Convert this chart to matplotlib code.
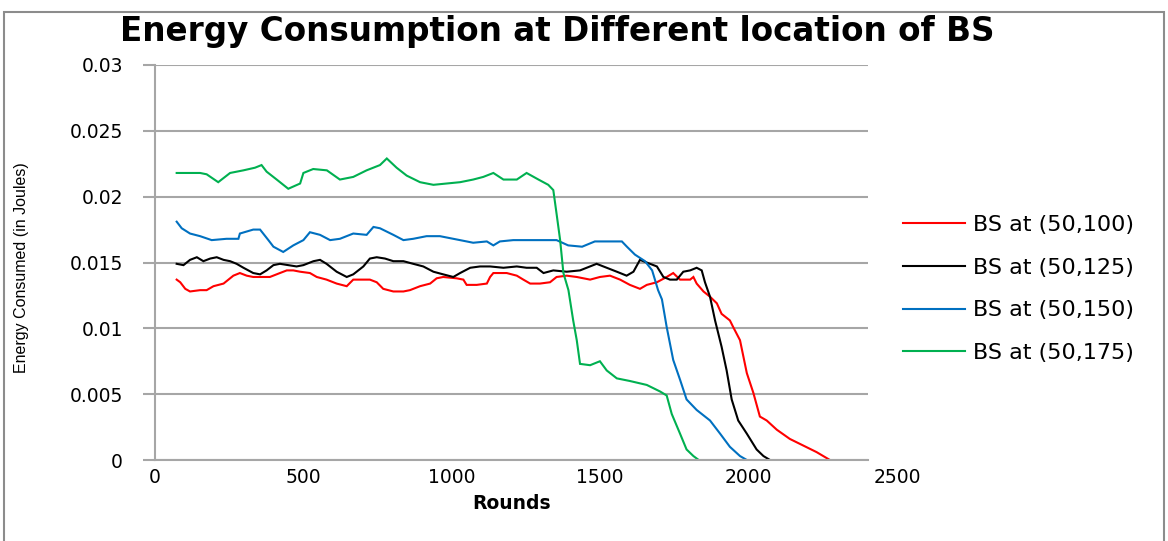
import matplotlib
matplotlib.use("Agg")
import matplotlib.pyplot as plt
from matplotlib.patches import Rectangle
from matplotlib.transforms import offset_copy

# ---- data ----
red_x = [73, 85, 102, 118, 152, 174, 197, 231, 264, 286, 309, 331, 365, 387, 421, 444, 466, 489, 522, 545,
         578, 612, 646, 668, 691, 724, 747, 769, 803, 837, 859, 893, 927, 949, 971, 1016, 1039, 1050, 1084,
         1118, 1129, 1140, 1185, 1219, 1241, 1264, 1297, 1331, 1353, 1387, 1421, 1466, 1499, 1533, 1567,
         1600, 1634, 1657, 1691, 1724, 1746, 1769, 1803, 1814, 1825, 1848, 1870, 1893, 1909, 1937, 1948,
         1971, 1994, 2016, 2038, 2061, 2095, 2139, 2184, 2229, 2274]
red_y = [0.0137, 0.0135, 0.0130, 0.0128, 0.0129, 0.0129, 0.0132, 0.0134, 0.0140, 0.0142, 0.0140, 0.0139,
         0.0139, 0.0139, 0.0142, 0.0144, 0.0144, 0.0143, 0.0142, 0.0139, 0.0137, 0.0134, 0.0132, 0.0137,
         0.0137, 0.0137, 0.0135, 0.0130, 0.0128, 0.0128, 0.0129, 0.0132, 0.0134, 0.0138, 0.0139, 0.0138,
         0.0137, 0.0133, 0.0133, 0.0134, 0.0139, 0.0142, 0.0142, 0.0140, 0.0137, 0.0134, 0.0134, 0.0135,
         0.0139, 0.0140, 0.0139, 0.0137, 0.0139, 0.0140, 0.0137, 0.0133, 0.0130, 0.0133, 0.0135, 0.0139,
         0.0142, 0.0137, 0.0137, 0.0139, 0.0134, 0.0128, 0.0124, 0.0119, 0.0111, 0.0106, 0.0101, 0.0091,
         0.0066, 0.0051, 0.0033, 0.0030, 0.0023, 0.0016, 0.0011, 0.0006, 0.0]

black_x = [73, 96, 118, 141, 163, 186, 208, 231, 253, 275, 298, 331, 354, 376, 399, 421, 449, 477, 500, 534,
           556, 578, 612, 646, 668, 702, 724, 747, 775, 803, 837, 870, 904, 938, 971, 1005, 1028, 1062, 1095,
           1129, 1174, 1219, 1252, 1286, 1309, 1342, 1387, 1432, 1488, 1522, 1556, 1589, 1612, 1634, 1668,
           1691, 1713, 1735, 1758, 1780, 1803, 1825, 1842, 1853, 1870, 1887, 1909, 1926, 1943, 1965, 1994,
           2027, 2050, 2072]
black_y = [0.0149, 0.0148, 0.0152, 0.0154, 0.0151, 0.0153, 0.0154, 0.0152, 0.0151, 0.0149, 0.0146, 0.0142,
           0.0141, 0.0144, 0.0148, 0.0149, 0.0148, 0.0147, 0.0148, 0.0151, 0.0152, 0.0149, 0.0143, 0.0139,
           0.0141, 0.0147, 0.0153, 0.0154, 0.0153, 0.0151, 0.0151, 0.0149, 0.0147, 0.0143, 0.0141, 0.0139,
           0.0142, 0.0146, 0.0147, 0.0147, 0.0146, 0.0147, 0.0146, 0.0146, 0.0142, 0.0144, 0.0143, 0.0144,
           0.0149, 0.0146, 0.0143, 0.0140, 0.0143, 0.0152, 0.0149, 0.0147, 0.0139, 0.0137, 0.0137, 0.0143,
           0.0144, 0.0146, 0.0144, 0.0135, 0.0124, 0.0106, 0.0086, 0.0068, 0.0046, 0.0030, 0.0020, 0.0008,
           0.0003, 0.0]

blue_x = [73, 90, 118, 152, 191, 241, 281, 286, 331, 354, 382, 399, 432, 466, 500, 522, 556, 590, 623, 668,
          713, 736, 758, 803, 837, 870, 915, 960, 1005, 1050, 1072, 1118, 1140, 1162, 1207, 1252, 1297, 1353,
          1392, 1439, 1482, 1573, 1590, 1617, 1651, 1675, 1695, 1708, 1724, 1746, 1769, 1791, 1825, 1870,
          1904, 1937, 1971, 1994]
blue_y = [0.0181, 0.0176, 0.0172, 0.0170, 0.0167, 0.0168, 0.0168, 0.0172, 0.0175, 0.0175, 0.0167, 0.0162,
          0.0158, 0.0163, 0.0167, 0.0173, 0.0171, 0.0167, 0.0168, 0.0172, 0.0171, 0.0177, 0.0176, 0.0171,
          0.0167, 0.0168, 0.0170, 0.0170, 0.0168, 0.0166, 0.0165, 0.0166, 0.0163, 0.0166, 0.0167, 0.0167,
          0.0167, 0.0167, 0.0163, 0.0162, 0.0166, 0.0166, 0.0162, 0.0156, 0.0151, 0.0144, 0.0129, 0.0122,
          0.0101, 0.0076, 0.0061, 0.0046, 0.0038, 0.0030, 0.0020, 0.0010, 0.0003, 0.0]

green_x = [73, 152, 174, 213, 253, 298, 337, 359, 376, 410, 449, 489, 500, 533, 579, 623, 668, 713, 758, 781,
           814, 848, 893, 938, 983, 1028, 1072, 1106, 1140, 1174, 1219, 1252, 1292, 1325, 1342, 1353, 1365,
           1376, 1393, 1409, 1421, 1432, 1466, 1499, 1522, 1556, 1600, 1657, 1702, 1724, 1741, 1769, 1791,
           1814, 1832]
green_y = [0.0218, 0.0218, 0.0217, 0.0211, 0.0218, 0.0220, 0.0222, 0.0224, 0.0219, 0.0213, 0.0206, 0.0210,
           0.0218, 0.0221, 0.0220, 0.0213, 0.0215, 0.0220, 0.0224, 0.0229, 0.0222, 0.0216, 0.0211, 0.0209,
           0.0210, 0.0211, 0.0213, 0.0215, 0.0218, 0.0213, 0.0213, 0.0218, 0.0213, 0.0209, 0.0205, 0.0187,
           0.0167, 0.0142, 0.0129, 0.0106, 0.0091, 0.0073, 0.0072, 0.0075, 0.0068, 0.0062, 0.0060, 0.0057,
           0.0052, 0.0049, 0.0035, 0.0020, 0.0008, 0.0003, 0.0]

labels = ["BS at (50,100)", "BS at (50,125)", "BS at (50,150)", "BS at (50,175)"]
colors = ["#FF0000", "#000000", "#0070C0", "#00B050"]
y_ticks = [0, 0.005, 0.01, 0.015, 0.02, 0.025, 0.03]
y_tick_labels = ["0", "0.005", "0.01", "0.015", "0.02", "0.025", "0.03"]
x_ticks = [0, 500, 1000, 1500, 2000, 2500]

W, H = 1168, 541
plt.rcParams['font.family'] = ['DejaVu Sans']
fig = plt.figure(figsize=(W / 100, H / 100), dpi=100)

# outer frame
fig.patches.append(Rectangle((4 / W, -0.05), 1160 / W, 1.05 - 12 / H, transform=fig.transFigure,
                             fill=False, edgecolor="#8C8C8C", linewidth=1.5))

ax = fig.add_axes([155 / W, 1 - 460 / H, (868 - 155) / W, (460 - 65) / H])
series = [(red_x, red_y), (black_x, black_y), (blue_x, blue_y), (green_x, green_y)]
handles = []
for (xs, ys), c, lab in zip(series, colors, labels):
    h, = ax.plot(xs, ys, color=c, linewidth=1.5, label=lab, solid_joinstyle="miter")
    handles.append(h)

ax.set_ylim(0, 0.03)
ax.set_xlim(0, (868 - 155) / 0.2968)
ax.set_yticks(y_ticks)
ax.set_yticklabels(y_tick_labels)
ax.set_xticks(x_ticks[:-1])
ax.set_xticklabels([str(v) for v in x_ticks[:-1]])

ax.grid(axis="y", color="#A6A6A6", linewidth=1.5)
ax.set_axisbelow(True)
for s in ["top", "right"]:
    ax.spines[s].set_visible(False)
for s in ["left", "bottom"]:
    ax.spines[s].set_color("#A6A6A6")
    ax.spines[s].set_linewidth(1.5)
ax.tick_params(axis="y", length=9, width=1.5, color="#A6A6A6", labelsize=13.5, pad=14)
ax.tick_params(axis="x", length=0, labelsize=13.5, pad=6)

# last x tick label sits beyond the plot area's right edge, at the same height as the others
lab_tr = offset_copy(ax.get_xaxis_transform(), fig=fig, x=0, y=-6, units="points")
ax.text(x_ticks[-1], 0, str(x_ticks[-1]), transform=lab_tr, ha="center", va="top",
        fontsize=13.5, clip_on=False)

ax.set_xlabel("Rounds", fontsize=13.5, fontweight="bold", labelpad=5)
fig.text(22 / W, 1 - 268 / H, "Energy Consumed (in Joules)", rotation=90, ha="center", va="center",
         fontsize=11.5, family=['Liberation Sans', 'DejaVu Sans'])
fig.text(557 / W, 1 - 31 / H, "Energy Consumption at Different location of BS", ha="center", va="center",
         fontsize=23.5, fontweight="bold")

fig.legend(handles=handles, labels=labels, loc="upper left", bbox_to_anchor=(883 / W, 1 - 195 / H),
           frameon=False, handlelength=2.8, labelspacing=1.02, handletextpad=0.33,
           prop={'family': ['DejaVu Sans'], 'size': 16})

fig.savefig("out.png", dpi=100)
